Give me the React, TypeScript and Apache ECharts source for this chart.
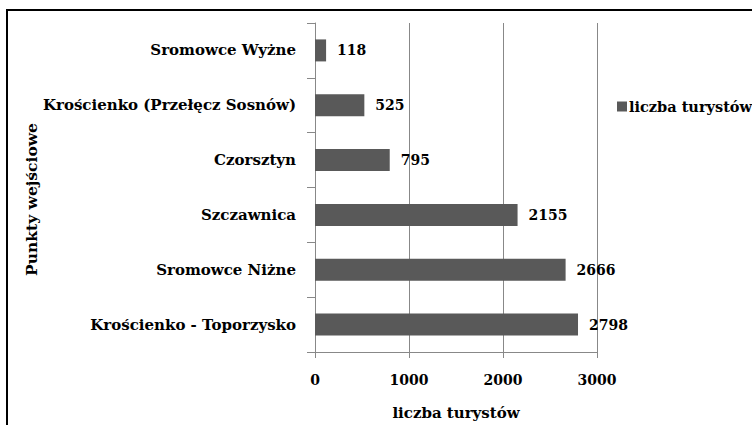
import React, { useEffect, useRef } from "react";
import * as echarts from "echarts";

const categories = [
  "Krościenko - Toporzysko",
  "Sromowce Niżne",
  "Szczawnica",
  "Czorsztyn",
  "Krościenko (Przełęcz Sosnów)",
  "Sromowce Wyżne",
];
const values = [2798, 2666, 2155, 795, 525, 118];
const seriesName = "liczba turystów";
const xAxisTitle = "liczba turystów";
const yAxisTitle = "Punkty wejściowe";

const FONT = "'DejaVu Serif', 'Liberation Serif', serif";

export default function App() {
  const ref = useRef<HTMLDivElement>(null);
  useEffect(() => {
    if (!ref.current) return;
    const chart = echarts.init(ref.current, null, { renderer: "svg" });
    chart.setOption({
      animation: false,
      backgroundColor: "#ffffff",
      textStyle: { fontFamily: FONT },
      graphic: [
        {
          type: "rect",
          shape: { x: 7, y: 10, width: 800, height: 500 },
          style: { fill: "none", stroke: "#000", lineWidth: 2 },
          silent: true,
        },
      ],
      legend: {
        data: [seriesName],
        left: 612,
        top: 94,
        icon: "rect",
        itemWidth: 10,
        itemHeight: 10,
        itemGap: 2,
        textStyle: { fontFamily: FONT, fontWeight: "bold", fontSize: 14.5, color: "#000", padding: [0, 0, 0, -3] },
      },
      grid: { left: 315, right: 155, top: 23, bottom: 59, containLabel: false },
      xAxis: {
        type: "value",
        min: 0,
        max: 3000,
        interval: 1000,
        name: xAxisTitle,
        nameLocation: "middle",
        nameGap: 53,
        nameTextStyle: { fontFamily: FONT, fontWeight: "bold", fontSize: 15, color: "#000" },
        axisLine: { show: true, lineStyle: { color: "#888", width: 1 } },
        axisTick: { show: true, length: 6, lineStyle: { color: "#888" } },
        axisLabel: {
          fontFamily: FONT,
          fontWeight: "bold",
          fontSize: 14,
          color: "#000",
          margin: 21,
          formatter: (v: number) => String(v),
        },
        splitLine: { show: true, lineStyle: { color: "#888", width: 1 } },
      },
      yAxis: {
        type: "category",
        data: categories,
        name: yAxisTitle,
        nameLocation: "middle",
        nameGap: 272,
        nameRotate: 90,
        nameTextStyle: { fontFamily: FONT, fontWeight: "bold", fontSize: 15.5, color: "#000", padding: [0, 24, 0, 0] },
        axisLine: { show: true, lineStyle: { color: "#888", width: 1 } },
        axisTick: { show: true, length: 8, lineStyle: { color: "#888" } },
        axisLabel: { fontFamily: FONT, fontWeight: "bold", fontSize: 15, color: "#000", margin: 19 },
        splitLine: { show: false },
      },
      series: [
        {
          name: seriesName,
          type: "bar",
          data: values,
          barWidth: 22,
          itemStyle: { color: "#595959" },
          label: {
            show: true,
            position: "right",
            distance: 11,
            fontFamily: FONT,
            fontWeight: "bold",
            fontSize: 14,
            color: "#000",
          },
        },
      ],
    });
    return () => chart.dispose();
  }, []);
  return <div ref={ref} style={{ width: 752, height: 425, position: "absolute", left: 0, top: 0 }} />;
}
